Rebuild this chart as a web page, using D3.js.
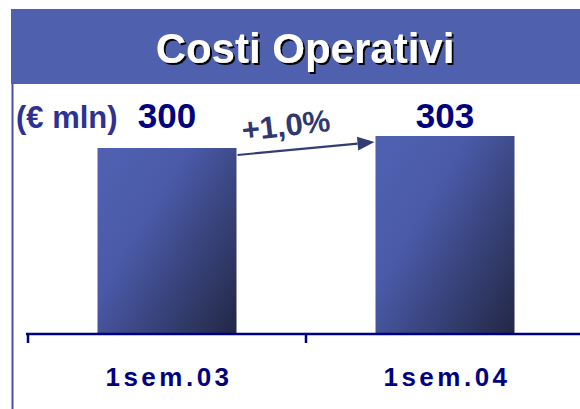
<!DOCTYPE html>
<html>
<head>
<meta charset="utf-8">
<script src="https://cdn.jsdelivr.net/npm/d3@7"></script>
<style>
  html, body { margin: 0; padding: 0; background: #fff; }
  svg { display: block; }
  text { font-family: "Liberation Sans", Arial, Helvetica, sans-serif; font-weight: bold; }
</style>
</head>
<body>
<svg id="chart" width="580" height="409"></svg>
<script>
// Operating costs, first half of each year (€ mln)
const categories = ["1sem.03", "1sem.04"];
const values = [300, 303];
const valueLabels = ["300", "303"];
const changeLabel = "+1,0%";
const titleText = "Costi Operativi";
const unitText = "(€ mln)";
const baseValue = 253.5; // value sitting on the category axis

const W = 580, H = 409;
const svg = d3.select("#chart");

const defs = svg.append("defs");
const grad = defs.append("linearGradient")
  .attr("id", "barGrad")
  .attr("x1", 0.05).attr("y1", 0.15)
  .attr("x2", 1).attr("y2", 0.95);
grad.append("stop").attr("offset", "0%").attr("stop-color", "#4f60b0");
grad.append("stop").attr("offset", "30%").attr("stop-color", "#4a5aa8");
grad.append("stop").attr("offset", "100%").attr("stop-color", "#242948");

// Title drop shadow
const shadow = defs.append("filter")
  .attr("id", "titleShadow")
  .attr("x", "-5%").attr("y", "-20%")
  .attr("width", "110%").attr("height", "140%");
shadow.append("feDropShadow")
  .attr("dx", 2).attr("dy", 2)
  .attr("stdDeviation", 0.3)
  .attr("flood-color", "#000")
  .attr("flood-opacity", 0.95);

// Header band
svg.append("rect")
  .attr("x", 11).attr("y", 9)
  .attr("width", W - 11).attr("height", 75)
  .attr("fill", "#4f60ae");

svg.append("text")
  .attr("x", 305).attr("y", 63)
  .attr("text-anchor", "middle")
  .attr("font-size", 42)
  .attr("fill", "#fff")
  .attr("filter", "url(#titleShadow)")
  .text(titleText);

// Left frame line
svg.append("line")
  .attr("x1", 12.5).attr("x2", 12.5)
  .attr("y1", 84).attr("y2", H)
  .attr("stroke", "#4b4f9e").attr("stroke-width", 2);

// Scales
const x = d3.scaleBand()
  .domain(categories)
  .range([28, 584])
  .paddingInner(0.5)
  .paddingOuter(0.25);

const y = d3.scaleLinear()
  .domain([baseValue, 303])
  .range([334, 136]);

// Bars
svg.append("g").selectAll("rect")
  .data(values)
  .join("rect")
  .attr("x", (d, i) => x(categories[i]))
  .attr("y", d => y(d))
  .attr("width", x.bandwidth())
  .attr("height", d => y(baseValue) - y(d))
  .attr("fill", "url(#barGrad)");

// Category axis
const band = d3.scaleBand().domain(categories).range([28, 584]);
const axisY = y(baseValue);
svg.append("line")
  .attr("x1", 26).attr("x2", W)
  .attr("y1", axisY).attr("y2", axisY)
  .attr("stroke", "#000080").attr("stroke-width", 2.5);
svg.append("g").selectAll("line")
  .data(categories)
  .join("line")
  .attr("x1", d => band(d)).attr("x2", d => band(d))
  .attr("y1", axisY).attr("y2", axisY + 9)
  .attr("stroke", "#000080").attr("stroke-width", 2.5);

svg.append("g").selectAll("text")
  .data(categories)
  .join("text")
  .attr("x", d => x(d) + x.bandwidth() / 2 + 2)
  .attr("y", 386)
  .attr("text-anchor", "middle")
  .attr("font-size", 26)
  .attr("letter-spacing", 3.5)
  .attr("fill", "#000080")
  .text(d => d);

// Value labels
svg.append("g").selectAll("text")
  .data(values)
  .join("text")
  .attr("x", (d, i) => x(categories[i]) + x.bandwidth() / 2)
  .attr("y", 128)
  .attr("text-anchor", "middle")
  .attr("font-size", 35)
  .attr("fill", "#000080")
  .text((d, i) => valueLabels[i]);

// Unit label
svg.append("text")
  .attr("x", 16).attr("y", 128)
  .attr("font-size", 31)
  .attr("fill", "#2e3192")
  .text(unitText);

// Growth arrow between the bars
const x0 = x(categories[0]) + x.bandwidth() + 1;
const y0 = y(values[0]) + 7;
const x1 = x(categories[1]) - 1;
const y1 = y(values[1]) + 6;
const ang = Math.atan2(y1 - y0, x1 - x0);
const headLen = 17, headHalf = 7;
const bx = x1 - headLen * Math.cos(ang), by = y1 - headLen * Math.sin(ang);
svg.append("line")
  .attr("x1", x0).attr("y1", y0)
  .attr("x2", bx).attr("y2", by)
  .attr("stroke", "#333d75").attr("stroke-width", 2.2);
svg.append("path")
  .attr("d", d3.line()([
    [x1, y1],
    [bx + headHalf * Math.sin(ang), by - headHalf * Math.cos(ang)],
    [bx - headHalf * Math.sin(ang), by + headHalf * Math.cos(ang)]
  ]) + "Z")
  .attr("fill", "#333d75");

svg.append("text")
  .attr("transform", "translate(243,141) rotate(-6.5)")
  .attr("font-size", 31)
  .attr("fill", "#2f3870")
  .text(changeLabel);
</script>
</body>
</html>
